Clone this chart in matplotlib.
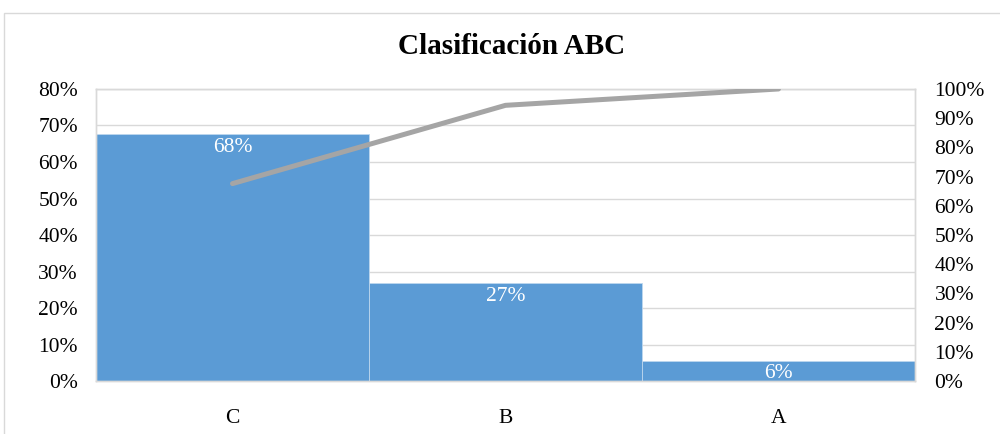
import matplotlib.pyplot as plt
from matplotlib.patches import Rectangle
from matplotlib.ticker import PercentFormatter

# ------------------------------------------
# Data
# ------------------------------------------

categories = ["C", "B", "A"]
shares = [0.676, 0.268, 0.056]
share_labels = ["68%", "27%", "6%"]
cumulative = [0.676, 0.944, 1.0]

plt.rcParams['font.family'] = ['Liberation Serif', 'DejaVu Serif']

fig = plt.figure(figsize=(10, 4.34), dpi=100)
fig.patches.append(Rectangle((0.004, -0.01), 1.0, 0.98, transform=fig.transFigure,
                             fill=False, edgecolor="#D9D9D9", linewidth=1))

ax = fig.add_axes([0.096, 0.122, 0.819, 0.673])
ax2 = ax.twinx()

x = range(len(categories))
bars = ax.bar(x, shares, width=1.0, color="#5B9BD5", edgecolor="#BDD7EE", linewidth=0.6, zorder=2)
ax.set_ylim(0, 0.8)
ax.set_xlim(-0.5, 2.5)
ax.set_yticks([i / 10 for i in range(9)])
ax.yaxis.set_major_formatter(PercentFormatter(1.0, decimals=0))
ax.grid(axis="y", color="#D9D9D9", linewidth=1, zorder=0)
ax.set_axisbelow(True)
ax.set_xticks(list(x))
ax.set_xticklabels(categories)
ax.tick_params(axis="both", length=0, labelsize=15.5, colors="black")
ax.tick_params(axis="x", pad=20)
ax.tick_params(axis="y", pad=13)

for b, lab in zip(bars, share_labels):
    ax.text(b.get_x() + b.get_width() / 2, b.get_height() - 0.01, lab,
            ha="center", va="top", color="white", fontsize=15.5, zorder=3)

ax2.plot(list(x), cumulative, color="#A5A5A5", linewidth=3.6, solid_capstyle="round", zorder=4)
ax2.set_ylim(0, 1.0)
ax2.set_yticks([i / 10 for i in range(11)])
ax2.yaxis.set_major_formatter(PercentFormatter(1.0, decimals=0))
ax2.tick_params(axis="y", length=0, labelsize=15.5, pad=14, colors="black")

for a in (ax, ax2):
    for s in a.spines.values():
        s.set_color("#D9D9D9")
        s.set_linewidth(1)

fig.text(0.512, 0.893, "Clasificación ABC", ha="center", va="center",
         fontsize=21, fontweight="bold")

plt.savefig("out.png", dpi=100)
